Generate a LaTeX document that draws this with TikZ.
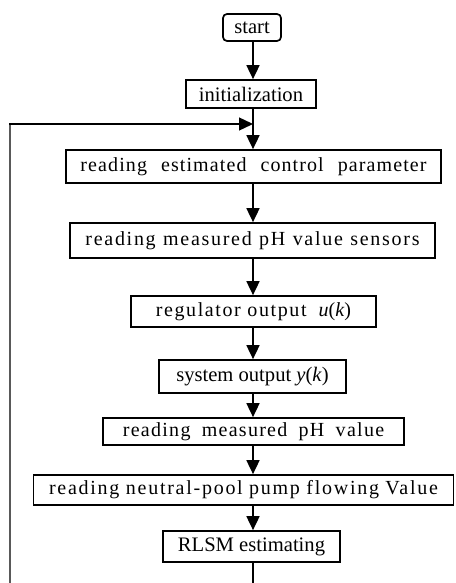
\documentclass[tikz,border=0pt]{standalone}
\usepackage{fontspec}
\setmainfont{Liberation Serif}
\newfontfamily\estfont[LetterSpace=5.5, WordSpace=2.3]{Liberation Serif}
\newfontfamily\sensfont[LetterSpace=8.6, WordSpace=1.1]{Liberation Serif}
\newfontfamily\regfont[LetterSpace=8, WordSpace=1.0]{Liberation Serif}
\newfontfamily\measfont[LetterSpace=6.4, WordSpace=1.8]{Liberation Serif}
\newfontfamily\pumpfont[LetterSpace=8.7, WordSpace=0.95]{Liberation Serif}
\usetikzlibrary{arrows.meta}
\tikzset{
  box/.style={draw, line width=1.7pt, inner sep=0pt, anchor=center},
  tight/.style={font=\fontsize{20.6}{22}\selectfont},
  sp/.style={font=\fontsize{20}{22}#1},
  flow/.style={line width=1.7pt, -{Triangle[length=14pt,width=13pt]}},
  plain/.style={line width=1.7pt},
  loopline/.style={line width=2.2pt, draw=black!65},
  backarrow/.style={line width=1.3pt, -{Triangle[length=14pt,width=13pt]}}
}
\begin{document}
\begin{tikzpicture}[x=1pt,y=-1pt]
\useasboundingbox (0,0) rectangle (455,583);
\coordinate (cx) at (253,0);
\node[box, tight, rounded corners=4pt, minimum width=58pt, minimum height=27pt] (start) at (252,27.5) {start};
\node[box, tight, minimum width=130pt, minimum height=28pt] (init) at (251,94) {initialization};
\node[box, sp=\estfont, minimum width=375pt, minimum height=33pt] (est) at (253.5,166.5) {reading estimated control parameter};
\node[box, sp=\sensfont, minimum width=365pt, minimum height=35pt] (sens) at (252.5,240.5) {reading measured pH value sensors};
\node[box, sp=\regfont, minimum width=245pt, minimum height=31pt] (reg) at (253.5,311.5) {regulator output\hspace{12pt}{\rmfamily\textit{u}(\textit{k})}};
\node[box, tight, minimum width=187pt, minimum height=33pt] (sys) at (252.5,376.5) {system output \textit{y}(\textit{k})};
\node[box, sp=\measfont, minimum width=301pt, minimum height=27pt] (meas) at (253.5,431.5) {reading measured pH value};
\node[box, sp=\pumpfont, minimum width=420pt, minimum height=30pt] (pump) at (243.5,490) {reading neutral-pool pump flowing Value};
\node[box, tight, minimum width=177pt, minimum height=31pt] (rlsm) at (251.5,546.5) {RLSM estimating};
\coordinate (merge) at (253,124);
\coordinate (bottom) at (253,584);
\coordinate (loopbot) at (10,584);
\draw[flow] (start.south -| cx) -- (init.north -| cx);
\draw[flow] (init.south -| cx) -- (est.north -| cx);
\draw[flow] (est.south -| cx) -- (sens.north -| cx);
\draw[flow] (sens.south -| cx) -- (reg.north -| cx);
\draw[flow] (reg.south -| cx) -- (sys.north -| cx);
\draw[flow] (sys.south -| cx) -- (meas.north -| cx);
\draw[flow] (meas.south -| cx) -- (pump.north -| cx);
\draw[flow] (pump.south -| cx) -- (rlsm.north -| cx);
\draw[plain] (rlsm.south -| cx) -- (bottom);
\draw[loopline] (loopbot) -- (10,124);
\draw[backarrow] (9,124) -- (merge);
\end{tikzpicture}
\end{document}
